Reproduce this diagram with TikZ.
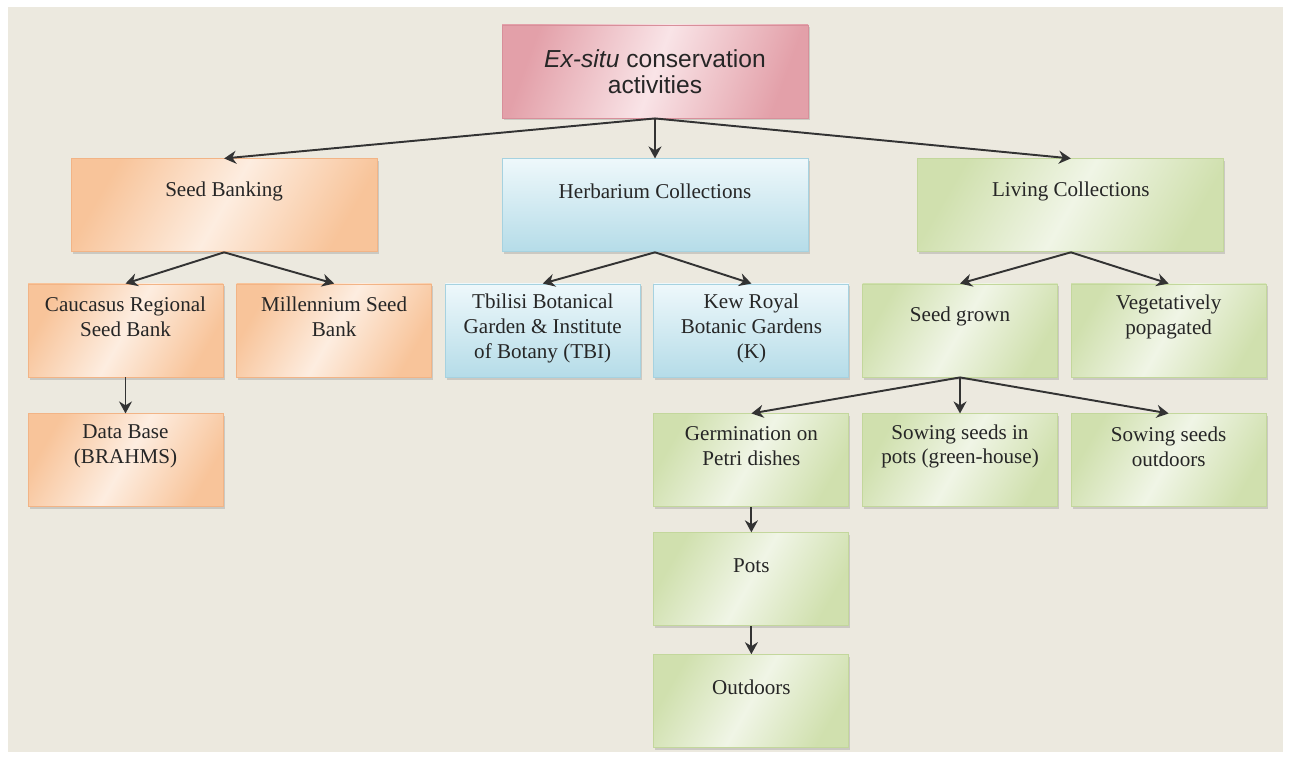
\documentclass[tikz,border=0pt]{standalone}
\usepackage{fontspec}
\setmainfont{Liberation Serif}
\newfontfamily\rootfont{Liberation Sans}
\usetikzlibrary{positioning,arrows.meta,shadows}

\definecolor{panel}{HTML}{ECE9DF}
\definecolor{ink}{HTML}{262626}
\definecolor{linec}{HTML}{333333}
\definecolor{orangeD}{HTML}{F8C49A}
\definecolor{orangeL}{HTML}{FDEDE0}
\definecolor{orangeB}{HTML}{F2B486}
\definecolor{blueD}{HTML}{B5DCE8}
\definecolor{blueL}{HTML}{EEF8FB}
\definecolor{blueB}{HTML}{A6D2E0}
\definecolor{greenD}{HTML}{D0E0AE}
\definecolor{greenL}{HTML}{F0F5E6}
\definecolor{greenB}{HTML}{C3D79C}
\definecolor{pinkD}{HTML}{E3A0A9}
\definecolor{pinkL}{HTML}{F9E4E7}
\definecolor{pinkB}{HTML}{D88F9A}

\begin{document}
\begin{tikzpicture}[
    box/.style={rectangle, line width=0.5pt, minimum height=1.86cm,
                drop shadow={shadow xshift=0.03cm, shadow yshift=-0.05cm, opacity=0.3}},
    wide/.style={box, minimum width=6.12cm},
    narrow/.style={box, minimum width=3.9cm},
    seedcol/.style={draw=orangeB, left color=orangeD, right color=orangeD,
                    middle color=orangeL, shading angle=60},
    herbcol/.style={draw=blueB, top color=blueL, bottom color=blueD},
    livecol/.style={draw=greenB, left color=greenD, right color=greenD,
                    middle color=greenL, shading angle=60},
    rootcol/.style={draw=pinkB, left color=pinkD, right color=pinkD,
                    middle color=pinkL, shading angle=70},
    txt/.style={anchor=center, yshift=-0.66cm, align=center, text=ink,
                font=\fontsize{12}{14.2}\selectfont},
    arrow/.style={-{Stealth[length=0.24cm, width=0.26cm]}, line width=1.1pt, draw=linec}
]
% page and panel
\useasboundingbox (0,0) rectangle (25.8,-15.16);
\fill[panel] (0.16,-0.14) rectangle (25.66,-15.04);

% top
\node[wide, rootcol, minimum height=1.86cm, align=center, text=ink,
      font=\rootfont\fontsize{14}{14.5}\selectfont] (root) at (13.1,-1.43)
      {\textit{Ex-situ} conservation\\activities};

% first level
\node[wide, herbcol, below=0.8cm of root,
      label={[txt]north:Herbarium Collections}] (herb) {};
\node[wide, seedcol, left=2.48cm of herb,
      label={[txt]north:Seed Banking}] (seedbank) {};
\node[wide, livecol, right=2.18cm of herb,
      label={[txt]north:Living Collections}] (living) {};

% second level
\node[narrow, seedcol, label={[txt]north:Caucasus Regional\\Seed Bank}]
      (caucasus) at (2.51,-6.61) {};
\node[narrow, seedcol, right=0.255cm of caucasus,
      label={[txt]north:Millennium Seed\\Bank}] (millennium) {};
\node[narrow, herbcol, right=0.255cm of millennium,
      label={[txt, yshift=-0.24cm]north:Tbilisi Botanical\\Garden \& Institute\\of Botany (TBI)}] (tbilisi) {};
\node[narrow, herbcol, right=0.255cm of tbilisi,
      label={[txt, yshift=-0.24cm]north:Kew Royal\\Botanic Gardens\\(K)}] (kew) {};
\node[narrow, livecol, right=0.255cm of kew,
      label={[txt]north:Seed grown}] (seedgrown) {};
\node[narrow, livecol, right=0.255cm of seedgrown,
      label={[txt]north:Vegetatively\\popagated}] (vegetative) {};

% third level
\node[narrow, seedcol, below=0.72cm of caucasus,
      label={[txt]north:Data Base\\(BRAHMS)}] (database) {};
\node[narrow, livecol, below=0.72cm of kew,
      label={[txt]north:Germination on\\Petri dishes}] (petri) {};
\node[narrow, livecol, below=0.72cm of seedgrown,
      label={[txt]north:Sowing seeds in\\pots (green-house)}] (greenhouse) {};
\node[narrow, livecol, below=0.72cm of vegetative,
      label={[txt]north:Sowing seeds\\outdoors}] (sowout) {};
\node[narrow, livecol, below=0.5cm of petri,
      label={[txt]north:Pots}] (pots) {};
\node[narrow, livecol, below=0.56cm of pots,
      label={[txt]north:Outdoors}] (outdoors) {};

% arrows
\draw[arrow] (root.south) -- (seedbank.north);
\draw[arrow] (root.south) -- (herb.north);
\draw[arrow] (root.south) -- (living.north);
\draw[arrow] (seedbank.south) -- (caucasus.north);
\draw[arrow] (seedbank.south) -- (millennium.north);
\draw[arrow] (herb.south) -- (tbilisi.north);
\draw[arrow] (herb.south) -- (kew.north);
\draw[arrow] (living.south) -- (seedgrown.north);
\draw[arrow] (living.south) -- (vegetative.north);
\draw[arrow] (caucasus.south) -- (database.north);
\draw[arrow] (seedgrown.south) -- (petri.north);
\draw[arrow] (seedgrown.south) -- (greenhouse.north);
\draw[arrow] (seedgrown.south) -- (sowout.north);
\draw[arrow] (petri.south) -- (pots.north);
\draw[arrow] (pots.south) -- (outdoors.north);
\end{tikzpicture}
\end{document}
